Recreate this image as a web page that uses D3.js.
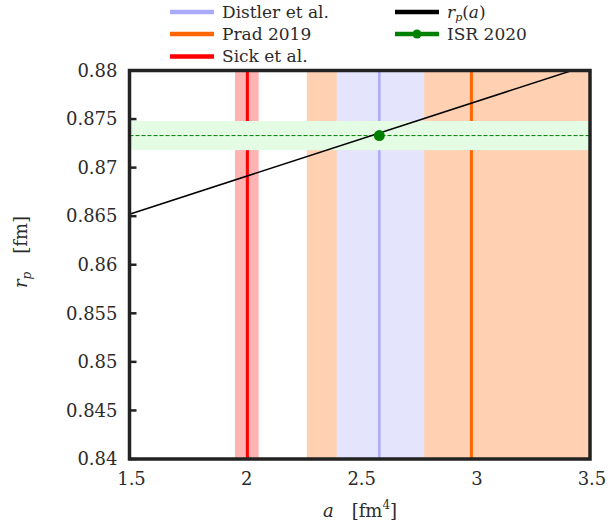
<!DOCTYPE html>
<html lang="en">
<head>
<meta charset="UTF-8">
<title>rp vs a</title>
<style>
  body { margin: 0; background: #fff; }
  text { font-family: "DejaVu Serif", serif; fill: #2b2b2b; }
</style>
</head>
<body>
<div id="chart"></div>
<script src="https://d3js.org/d3.v7.min.js"></script>
<script>
// data
var xTicks = [1.5, 2, 2.5, 3, 3.5];
var xTickLabels = ["1.5", "2", "2.5", "3", "3.5"];
var yTicks = [0.84, 0.845, 0.85, 0.855, 0.86, 0.865, 0.87, 0.875, 0.88];
var yTickLabels = ["0.84", "0.845", "0.85", "0.855", "0.86", "0.865", "0.87", "0.875", "0.88"];

// vertical bands (a in fm^4): central value, low, high
var bandNames = ["Prad 2019", "Distler et al.", "Sick et al."];
var bandCentral = [2.985, 2.585, 2.012];
var bandLow = [2.27, 2.40, 1.958];
var bandHigh = [3.70, 2.78, 2.061];
var bandLineColor = ["#ff6600", "#aaaaff", "#ff0000"];
var bandFillColor = ["#ffd1b2", "#e4e4fc", "#ffb3b3"];

// r_p(a) line
var curveA = [1.5, 3.5];
var curveR = [0.8652, 0.8806];

// ISR 2020 result
var isrA = [2.585];
var isrR = [0.8733];
var isrLow = 0.8718, isrHigh = 0.8748;

var W = 608, H = 526;
var margin = {top: 70.5, right: 18, bottom: 67, left: 129.5};
var width = W - margin.left - margin.right;
var height = H - margin.top - margin.bottom;

var svg = d3.select("#chart").append("svg")
    .attr("width", W).attr("height", H);

svg.append("defs").append("clipPath").attr("id", "clip")
  .append("rect").attr("width", width).attr("height", height);

var g = svg.append("g")
    .attr("transform", "translate(" + margin.left + "," + margin.top + ")");

var x = d3.scaleLinear().domain([1.5, 3.5]).range([0, width]);
var y = d3.scaleLinear().domain([0.84, 0.88]).range([height, 0]);

var plot = g.append("g").attr("clip-path", "url(#clip)");

// bands then central lines
bandNames.forEach(function(n, i) {
  plot.append("rect")
    .attr("x", x(bandLow[i]))
    .attr("width", x(bandHigh[i]) - x(bandLow[i]))
    .attr("y", 0).attr("height", height)
    .attr("fill", bandFillColor[i]);
});
bandNames.forEach(function(n, i) {
  plot.append("line")
    .attr("x1", x(bandCentral[i])).attr("x2", x(bandCentral[i]))
    .attr("y1", 0).attr("y2", height)
    .attr("stroke", bandLineColor[i])
    .attr("stroke-width", i == 1 ? 2.5 : 3);
});

// ISR band
plot.append("rect")
  .attr("x", 0).attr("width", width)
  .attr("y", y(isrHigh)).attr("height", y(isrLow) - y(isrHigh))
  .attr("fill", "#e4fce4");
plot.append("line")
  .attr("x1", 0).attr("x2", width)
  .attr("y1", y(isrR[0])).attr("y2", y(isrR[0]))
  .attr("stroke", "#008000").attr("stroke-width", 1)
  .attr("stroke-dasharray", "4,2");

// r_p(a)
var line = d3.line()
  .x(function(d, i) { return x(curveA[i]); })
  .y(function(d) { return y(d); });
plot.append("path")
  .attr("d", line(curveR))
  .attr("fill", "none").attr("stroke", "#000").attr("stroke-width", 1.5);

plot.selectAll("circle.isr").data(isrR).enter().append("circle")
  .attr("class", "isr")
  .attr("cx", function(d, i) { return x(isrA[i]); })
  .attr("cy", function(d) { return y(d); })
  .attr("r", 5.5).attr("fill", "#008000");

// y ticks (inward on left)
g.selectAll("line.ytick").data(yTicks).enter().append("line")
  .attr("class", "ytick")
  .attr("x1", 0).attr("x2", 7)
  .attr("y1", function(d) { return y(d); })
  .attr("y2", function(d) { return y(d); })
  .attr("stroke", "#222").attr("stroke-width", 2.5);

g.selectAll("text.ylab").data(yTicks).enter().append("text")
  .attr("class", "ylab")
  .attr("x", -12)
  .attr("y", function(d) { return y(d); })
  .attr("dy", "0.35em")
  .attr("text-anchor", "end")
  .attr("font-size", 18)
  .text(function(d, i) { return yTickLabels[i]; });

g.selectAll("text.xlab").data(xTicks).enter().append("text")
  .attr("class", "xlab")
  .attr("x", function(d) { return x(d) + 2; })
  .attr("y", height + 26)
  .attr("text-anchor", "middle")
  .attr("font-size", 18)
  .text(function(d, i) { return xTickLabels[i]; });

// frame
g.append("rect")
  .attr("width", width).attr("height", height)
  .attr("fill", "none").attr("stroke", "#222").attr("stroke-width", 3.5);

// axis titles
var xt = svg.append("text")
  .attr("x", 360).attr("y", 517)
  .attr("text-anchor", "middle").attr("font-size", 18);
xt.append("tspan").attr("font-style", "italic").text("a");
xt.append("tspan").text("\u2003[fm");
xt.append("tspan").attr("font-size", 12).attr("dy", -8).text("4");
xt.append("tspan").attr("dy", 8).text("]");

var yt = svg.append("text")
  .attr("transform", "translate(27,252) rotate(-90)")
  .attr("text-anchor", "middle").attr("font-size", 18);
yt.append("tspan").attr("font-style", "italic").text("r");
yt.append("tspan").attr("font-style", "italic").attr("font-size", 12).attr("dy", 4).text("p");
yt.append("tspan").attr("dy", -4).text("\u2003[fm]");

// legend
var legend = [
  {name: "Distler et al.", color: "#aaaaff", col: 0, row: 0},
  {name: "Prad 2019", color: "#ff6600", col: 0, row: 1},
  {name: "Sick et al.", color: "#ff0000", col: 0, row: 2},
  {name: "rp(a)", color: "#000", col: 1, row: 0},
  {name: "ISR 2020", color: "#008000", col: 1, row: 1, marker: true}
];
var colX = [170, 395], rowY = [12, 34, 56.5];
legend.forEach(function(d) {
  var lg = svg.append("g")
    .attr("transform", "translate(" + colX[d.col] + "," + rowY[d.row] + ")");
  lg.append("line").attr("x1", 0).attr("x2", 44)
    .attr("stroke", d.color).attr("stroke-width", 4.5);
  if (d.marker) lg.append("circle").attr("cx", 22).attr("r", 4.5).attr("fill", d.color);
  var t = lg.append("text").attr("x", 52).attr("dy", "0.35em").attr("font-size", 17);
  if (d.name == "rp(a)") {
    t.append("tspan").attr("font-style", "italic").text("r");
    t.append("tspan").attr("font-style", "italic").attr("font-size", 11).attr("dy", 3).text("p");
    t.append("tspan").attr("dy", -3).text("(");
    t.append("tspan").attr("font-style", "italic").text("a");
    t.append("tspan").text(")");
  } else {
    t.text(d.name);
  }
});
</script>
</body>
</html>
